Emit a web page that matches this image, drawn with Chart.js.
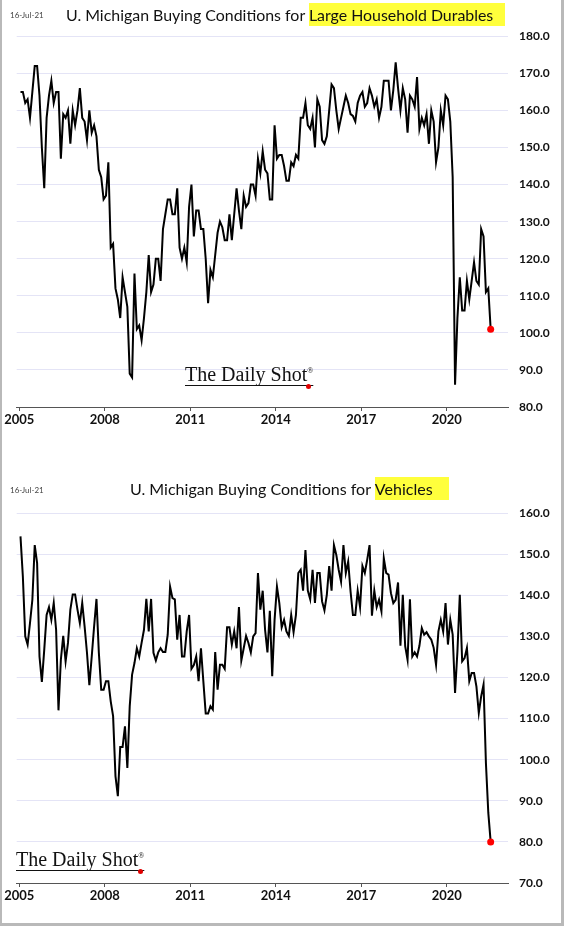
<!DOCTYPE html>
<html>
<head>
<meta charset="utf-8">
<script src="https://cdn.jsdelivr.net/npm/chart.js@4.4.0/dist/chart.umd.min.js"></script>
<style>
  html, body { margin: 0; padding: 0; background: #fff; }
  #frame { position: relative; width: 564px; height: 926px; overflow: hidden; background: #fff; }
  canvas { position: absolute; left: 0; }
  .bd { position: absolute; background: #b9b9b9; }
  .date { position: absolute; font-family: 'Lato', sans-serif; font-size: 8px; color: #444; white-space: nowrap; }
  .title { position: absolute; font-family: 'Lato', sans-serif; font-size: 17px; color: #111; white-space: nowrap; line-height: 23px; }
  .title .hl { background: #ffff3c; display: inline-block; height: 23px; }
  .wm { position: absolute; font-family: 'Liberation Serif', 'DejaVu Serif', serif; font-size: 20px; color: #111; white-space: nowrap;
        text-decoration: underline; text-decoration-thickness: 1px; text-underline-offset: 4px; text-decoration-skip-ink: auto; }
  .wm sup { font-size: 8px; text-decoration: none; vertical-align: 8px; }
  .dot { position: absolute; width: 5px; height: 5px; border-radius: 50%; background: #e00000; }
</style>
</head>
<body>
<div id="frame">
  <canvas id="c1" width="564" height="460" style="top:0px"></canvas>
  <canvas id="c2" width="564" height="463" style="top:460px"></canvas>

  <div class="date" style="left:10px; top:10px;">16-Jul-21</div>
  <div class="title" id="t1" style="left:66px; top:3px;"><span class="plain">U. Michigan Buying Conditions for </span><span class="hl">Large Household Durables&nbsp;&nbsp;&nbsp;</span></div>

  <div class="date" style="left:10px; top:485px;">16-Jul-21</div>
  <div class="title" id="t2" style="left:130px; top:477px;"><span class="plain">U. Michigan Buying Conditions for </span><span class="hl">Vehicles&nbsp;&nbsp;&nbsp;&nbsp;</span></div>

  <div class="wm" style="left:185px; top:363px;">The Daily Shot<sup>®</sup></div>
  <div class="dot" style="left:305.5px; top:383.5px;"></div>
  <div class="wm" style="left:16px; top:848px;">The Daily Shot<sup>®</sup></div>
  <div class="dot" style="left:137.5px; top:868.5px;"></div>

  <div class="bd" style="left:0; top:0; width:2px; height:926px;"></div>
  <div class="bd" style="left:561px; top:0; width:3px; height:926px;"></div>
  <div class="bd" style="left:0; top:923px; width:564px; height:3px;"></div>
</div>

<script>
// ---- data (monthly, starting Jan 2005, ending Jul 2021) ----
const startYear = 2005;
const xTickYears = [2005, 2008, 2011, 2014, 2017, 2020];

const durablesValues = [
  165,165,162,163,158,165,172,172,164,150,
  139,158,164,168,162,165,165,147,159,158,
  160,151,160,156,160,166,158,157,152,160,
  154,156,153,144,142,136,137,146,123,124,
  112,109,104,115,111,107,89,88,116,101,
  102,98,104,111,121,111,113,120,120,114,
  128,132,136,136,132,132,139,123,120,123,
  119,134,140,126,133,133,
  128,128,120,108,117,115,121,127,130,128.5,
  125,125,132,125,132,139,133,128,137,134,
  135,140,140,137,147,143,149,144,143,136,
  136,156,147,148,148,145,141,141,146,145,
  148,147,158,158,162,156,155,158,150,163,
  161,152,151,153,160,167,166,160,155,158,
  161,164,162,159,158.5,157,162,164,165,161,
  162,166,164,161,163,158,161,168,168,168,
  160,165.5,173,166,160,166,163,154,164,163,
  161,169,155,158,156,159,151,160,157,146,
  150,160,156,164,163,157,142,86,104,115,
  106,106,114,109,114,119,114,113,128,126,
  111,112,101
];

const vehiclesValues = [
  154.3,144.5,130,128,133.2,138.9,152.2,147.8,125.1,118.9,
  126.7,135.2,137.1,134,138.1,131.6,112,124.3,130.1,123.9,
  128.4,136.5,140.2,140.2,136.5,133.2,138.1,132.4,126,118.1,
  125.1,132.4,139.1,126,117,117,119.1,119.1,114.2,110.6,
  96,91.1,103.1,103.1,108.1,98,113,120.7,123.5,127.1,
  125.1,128.4,131.6,139.1,131.2,139.1,126,124.1,126.1,127.1,
  126.2,126.2,130.4,142.1,139.3,139,129.2,135.2,125.1,125.1,
  131.2,135.2,122.1,123,125.1,119.1,
  127.1,119.1,111.2,111.2,113,112.2,126.2,117,123.1,123.1,
  122.1,132.2,132.2,128,131.2,127.1,137.1,124.1,127.1,130.1,
  128.4,126.1,130,130.8,145.4,136.5,141.1,131.6,126.1,136.2,
  120.3,134,142.1,138.1,132.2,134,131.2,130.1,135.2,131,
  135.2,145.4,146.2,141.1,151,141.1,139,146.2,138.1,145.4,
  145.4,138.5,136.3,140.1,147.1,141.1,152.2,149.8,146.2,143.3,
  152.2,145.4,148.2,140.9,135.2,135.2,141.1,137.1,
  147.1,145.4,148.6,152.2,135,141.1,137.1,138.9,136.1,149,
  145.4,145,140.5,138.1,138.9,143.1,127.7,140.1,127.6,124.3,
  139,125.1,126.1,125.1,127.7,132,130.4,131,130,129.2,
  127.2,123.1,131.2,134,131.2,138.1,128,134,130.4,116.2,
  126.3,140.1,123.9,124.7,127.2,119.1,121.1,121.1,117.8,111.4,
  115.4,118.3,99.2,87.1,80
];

const durablesYTicks = [80, 90, 100, 110, 120, 130, 140, 150, 160, 170, 180];
const vehiclesYTicks = [70, 80, 90, 100, 110, 120, 130, 140, 150, 160];

// ---- chart builder ----
function makeChart(canvasId, values, yTicks, padTop, xAxisHeight) {
  const pts = values.map((v, i) => ({ x: i + 0.5, y: v }));
  const last = values.length - 1;
  return new Chart(document.getElementById(canvasId), {
    type: 'line',
    data: {
      datasets: [{
        data: pts,
        borderColor: '#000000',
        borderWidth: 2,
        tension: 0,
        fill: false,
        pointRadius: c => (c.dataIndex === last ? 3.5 : 0),
        pointBackgroundColor: '#ff0000',
        pointBorderWidth: 0,
        pointHoverRadius: 0,
        clip: false
      }]
    },
    options: {
      responsive: false,
      animation: false,
      events: [],
      layout: { padding: { left: 16.7, right: 0, top: padTop, bottom: 0 } },
      plugins: { legend: { display: false }, tooltip: { enabled: false }, title: { display: false } },
      scales: {
        x: {
          type: 'linear',
          position: 'bottom',
          min: -1.095,
          max: 205.8,
          afterBuildTicks: ax => { ax.ticks = xTickYears.map(y => ({ value: (y - startYear) * 12 })); },
          afterFit: ax => { ax.height = xAxisHeight; },
          grid: { drawOnChartArea: false, drawTicks: true, tickLength: 4, color: '#555555' },
          border: { display: true, color: '#555555', width: 1 },
          ticks: {
            color: '#111',
            font: { family: 'Lato', weight: 'bold', size: 13 },
            padding: 1,
            maxRotation: 0,
            autoSkip: false,
            callback: v => String(Math.round(startYear + v / 12))
          }
        },
        y: {
          position: 'right',
          min: yTicks[0],
          max: yTicks[yTicks.length - 1],
          afterBuildTicks: ax => { ax.ticks = yTicks.map(v => ({ value: v })); },
          afterFit: ax => { ax.width = 56; },
          grid: { color: '#e4e4f6', lineWidth: 1, drawTicks: false },
          border: { display: false },
          ticks: {
            padding: 11,
            color: '#111',
            font: { family: 'Lato', weight: 'bold', size: 12 },
            callback: v => Number(v).toFixed(1)
          }
        }
      }
    }
  });
}

makeChart('c1', durablesValues, durablesYTicks, 36.3, 53);
makeChart('c2', vehiclesValues, vehiclesYTicks, 53, 40);

// fit title font so the plain part spans the same width as the reference
[['t1', 243], ['t2', 245]].forEach(([id, target]) => {
  const el = document.getElementById(id);
  const plain = el.querySelector('.plain');
  const w = plain.getBoundingClientRect().width;
  const size = 17 * target / w;
  el.style.fontSize = size.toFixed(2) + 'px';
});
</script>
</body>
</html>
